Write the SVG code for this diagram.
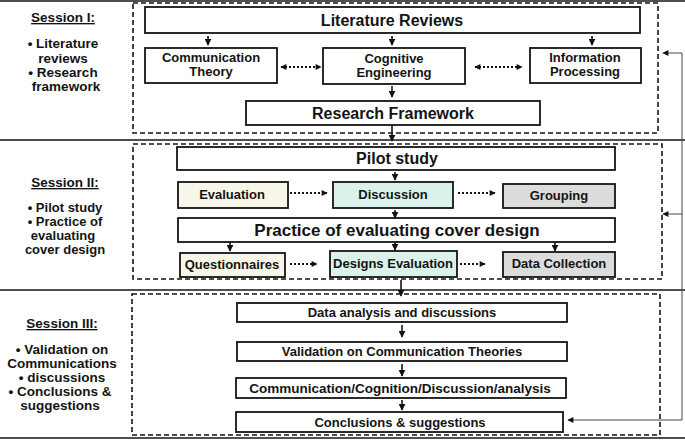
<svg xmlns="http://www.w3.org/2000/svg" width="685" height="441" viewBox="0 0 685 441">
<defs>
<marker id="ah" viewBox="0 0 10 10" refX="9" refY="5" markerWidth="7" markerHeight="7" orient="auto-start-reverse" markerUnits="userSpaceOnUse"><path d="M0,0 L10,5 L0,10 z" fill="#111"/></marker>
<marker id="ahs" viewBox="0 0 10 10" refX="9" refY="5" markerWidth="7" markerHeight="6" orient="auto-start-reverse" markerUnits="userSpaceOnUse"><path d="M0,0 L10,5 L0,10 z" fill="#111"/></marker>
<marker id="ahb" viewBox="0 0 10 10" refX="9" refY="5" markerWidth="11" markerHeight="11" orient="auto" markerUnits="userSpaceOnUse"><path d="M0,0 L10,5 L0,10 z" fill="#111"/></marker>
</defs>
<style>
text{font-family:"Liberation Sans",Arial,sans-serif;font-weight:bold;fill:#141414;text-anchor:middle}
.box{fill:#fff;stroke:#141414;stroke-width:1.8}
.cream{fill:#f8f6e8}
.teal{fill:#daf1ec}
.grey{fill:#dcdcdc}
.dash{fill:none;stroke:#141414;stroke-width:1.6;stroke-dasharray:5 3}
.sep{stroke:#141414;stroke-width:1.6}
.big{font-size:16px}
.mid{font-size:13px}
.side{font-size:13.5px}
.side2{font-size:13px}
.arr{stroke:#141414;stroke-width:1.6;fill:none;marker-end:url(#ah)}
.dot{stroke:#141414;stroke-width:2;stroke-dasharray:2 2;fill:none;marker-end:url(#ahs)}
.dot2{stroke:#141414;stroke-width:2;stroke-dasharray:2 2;fill:none;marker-end:url(#ahs);marker-start:url(#ahs)}
.fb{stroke:#444;stroke-width:1;fill:none;marker-end:url(#ahs)}
</style>
<rect width="685" height="441" fill="#fff"/>
<g id="separators">
<line class="sep" x1="0" y1="1" x2="685" y2="1"/>
<line class="sep" x1="0" y1="140" x2="685" y2="140"/>
<line class="sep" x1="0" y1="290" x2="685" y2="290"/>
<line class="sep" x1="0" y1="438" x2="685" y2="438"/>
</g>
<g id="session-labels">
<text class="side" x="63" y="22" text-decoration="underline">Session I:</text>
<text class="side" x="63" y="48">• Literature</text>
<text class="side" x="63" y="63">reviews</text>
<text class="side" x="63" y="77">• Research</text>
<text class="side" x="66" y="91">framework</text>
<text class="side" x="65" y="187" text-decoration="underline">Session II:</text>
<text class="side2" x="65" y="212">• Pilot study</text>
<text class="side2" x="65" y="226">• Practice of</text>
<text class="side2" x="63" y="240">evaluating</text>
<text class="side2" x="65" y="254">cover design</text>
<text class="side" x="62" y="328" text-decoration="underline">Session III:</text>
<text class="side" x="62" y="354">• Validation on</text>
<text class="side" x="62" y="368">Communications</text>
<text class="side" x="62" y="382">• discussions</text>
<text class="side" x="60" y="396">• Conclusions &amp;</text>
<text class="side" x="60" y="410">suggestions</text>
</g>
<g id="session-frames">
<rect class="dash" x="133" y="3" width="525" height="130"/>
<rect class="dash" x="133" y="144" width="529" height="135"/>
<rect class="dash" x="132" y="294" width="528" height="141"/>
</g>
<g id="literature-reviews"><rect class="box" x="145" y="7" width="495" height="26"/><text class="big" x="392" y="26">Literature Reviews</text></g>
<g id="communication-theory"><rect class="box" x="145" y="48" width="132" height="35"/><text class="mid" x="211" y="62">Communication</text><text class="mid" x="211" y="76">Theory</text></g>
<g id="cognitive-engineering"><rect class="box" x="323" y="48" width="142" height="36"/><text class="mid" x="394" y="63">Cognitive</text><text class="mid" x="394" y="77">Engineering</text></g>
<g id="information-processing"><rect class="box" x="530" y="48" width="111" height="35"/><text class="mid" x="585" y="62">Information</text><text class="mid" x="585" y="76">Processing</text></g>
<g id="research-framework"><rect class="box" x="246" y="101" width="294" height="24"/><text class="big" x="393" y="119">Research Framework</text></g>
<g id="pilot-study"><rect class="box" x="177" y="147" width="438" height="23"/><text class="big" x="397" y="164">Pilot study</text></g>
<g id="evaluation"><rect class="box cream" x="178" y="182" width="110" height="26"/><text class="mid" x="232" y="199">Evaluation</text></g>
<g id="discussion"><rect class="box teal" x="333" y="182" width="120" height="26"/><text class="mid" x="393" y="199">Discussion</text></g>
<g id="grouping"><rect class="box grey" x="503" y="184" width="112" height="24"/><text class="mid" x="559" y="200">Grouping</text></g>
<g id="practice"><rect class="box" x="178" y="218" width="437" height="24"/><text x="397" y="236" style="font-size:17px">Practice of evaluating cover design</text></g>
<g id="questionnaires"><rect class="box cream" x="180" y="253" width="105" height="24"/><text class="mid" x="232" y="269">Questionnaires</text></g>
<g id="designs-evaluation"><rect class="box teal" x="330" y="251" width="127" height="26"/><text class="mid" x="393" y="268">Designs Evaluation</text></g>
<g id="data-collection"><rect class="box grey" x="503" y="252" width="112" height="25"/><text class="mid" x="559" y="268">Data Collection</text></g>
<g id="data-analysis"><rect class="box" x="237" y="303" width="330" height="19"/><text class="mid" x="402" y="317">Data analysis and discussions</text></g>
<g id="validation"><rect class="box" x="237" y="342" width="330" height="19"/><text class="mid" x="402" y="356">Validation on Communication Theories</text></g>
<g id="comm-cognition"><rect class="box" x="236" y="378" width="330" height="20"/><text class="mid" x="400" y="393" style="font-size:13.5px">Communication/Cognition/Discussion/analysis</text></g>
<g id="conclusions"><rect class="box" x="236" y="412" width="327" height="20"/><text class="mid" x="400" y="427">Conclusions &amp; suggestions</text></g>
<g id="connectors">
<line class="arr" x1="208" y1="36" x2="208" y2="45"/>
<line class="arr" x1="392" y1="36" x2="392" y2="45"/>
<line class="arr" x1="592" y1="36" x2="592" y2="45"/>
<line class="arr" x1="392" y1="86" x2="392" y2="97"/>
<line class="dot2" x1="281" y1="67" x2="321" y2="67"/>
<line class="dot2" x1="475" y1="67" x2="522" y2="67"/>
<line class="arr" x1="392" y1="125" x2="392" y2="141" marker-end="url(#ahb)" stroke-width="3"/>
<line class="arr" x1="395" y1="172" x2="395" y2="180"/>
<line class="dot" x1="290" y1="193" x2="327" y2="193"/>
<line class="dot" x1="458" y1="193" x2="495" y2="193"/>
<line class="arr" x1="395" y1="210" x2="395" y2="218"/>
<line class="arr" x1="230" y1="242" x2="230" y2="251"/>
<line class="arr" x1="395" y1="242" x2="395" y2="250"/>
<line class="arr" x1="555" y1="242" x2="555" y2="251"/>
<line class="dot" x1="290" y1="264" x2="317" y2="264"/>
<line class="dot" x1="460" y1="264" x2="485" y2="264"/>
<line class="arr" x1="401" y1="280" x2="401" y2="296" marker-end="url(#ahb)" stroke-width="3"/>
<line class="arr" x1="402" y1="325" x2="402" y2="337"/>
<line class="arr" x1="402" y1="364" x2="402" y2="376"/>
<line class="arr" x1="402" y1="400" x2="402" y2="410"/>
<polyline class="fb" points="682,53 682,420 568,420"/>
<line class="fb" x1="682" y1="53" x2="663" y2="53"/>
<line class="fb" x1="682" y1="214" x2="663" y2="214"/>
</g>
</svg>
